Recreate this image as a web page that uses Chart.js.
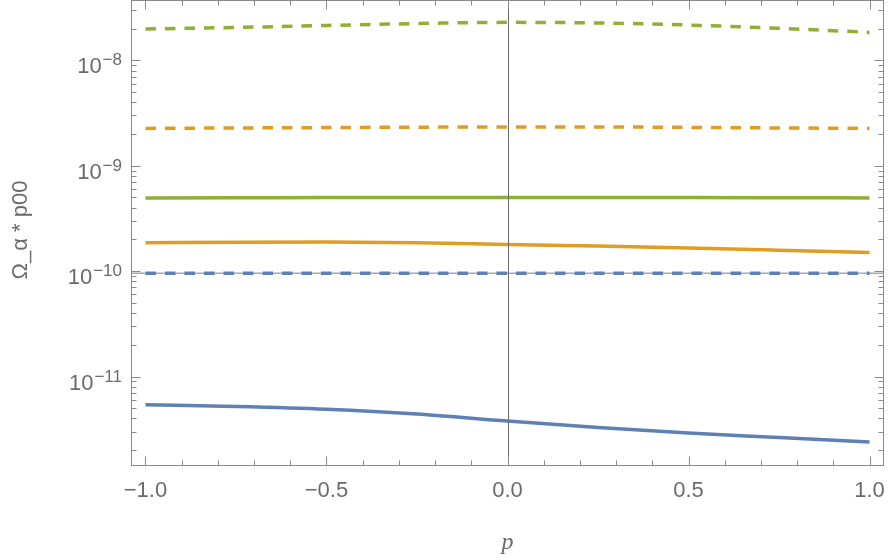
<!DOCTYPE html>
<html>
<head>
<meta charset="utf-8">
<script src="https://cdn.jsdelivr.net/npm/chart.js@4/dist/chart.umd.min.js"></script>
<style>
  html, body { margin: 0; padding: 0; background: #ffffff; }
  #wrap { width: 889px; height: 560px; position: relative; }
</style>
</head>
<body>
<div id="wrap"><canvas id="chart" width="889" height="560"></canvas></div>
<script>
// Sample points in p
const pValues = [-1, -0.75, -0.5, -0.25, 0, 0.25, 0.5, 0.75, 1];

// Ω_α * p00 for each curve
const blueSolid    = [5.39e-12, 5.19e-12, 4.89e-12, 4.41e-12, 3.78e-12, 3.28e-12, 2.91e-12, 2.64e-12, 2.39e-12];
const orangeSolid  = [1.86e-10, 1.88e-10, 1.89e-10, 1.86e-10, 1.79e-10, 1.73e-10, 1.66e-10, 1.58e-10, 1.50e-10];
const greenSolid   = [4.95e-10, 4.97e-10, 4.99e-10, 5.00e-10, 5.00e-10, 5.00e-10, 4.99e-10, 4.97e-10, 4.95e-10];
const blueDashed   = [9.53e-11, 9.53e-11, 9.53e-11, 9.53e-11, 9.53e-11, 9.53e-11, 9.53e-11, 9.53e-11, 9.53e-11];
const orangeDashed = [2.26e-9, 2.28e-9, 2.30e-9, 2.32e-9, 2.33e-9, 2.33e-9, 2.31e-9, 2.28e-9, 2.26e-9];
const greenDashed  = [1.98e-8, 2.05e-8, 2.14e-8, 2.23e-8, 2.29e-8, 2.26e-8, 2.16e-8, 2.01e-8, 1.84e-8];

// Axis ticks
const xMajorTicks = [-1, -0.5, 0, 0.5, 1];
const xTickLabels = ['\u22121.0', '\u22120.5', '0.0', '0.5', '1.0'];
const yDecadeExponents = [-8, -9, -10, -11];

// Ranges and axis crossing
const X_MIN = -1.04, X_MAX = 1.04;
const Y_MIN = 1.416e-12, Y_MAX = 3.733e-8;
const AXIS_CROSS_Y = 9.55e-11;

const BLUE = '#5e81b5', ORANGE = '#e19c24', GREEN = '#8fb032';
const TEXT = '#6b6b6b', FRAME = '#8a8a8a';
const DASH = [10.5, 9];
const FONT = '"Liberation Sans", Arial, sans-serif';

function series(values, color, dashed) {
  return {
    data: pValues.map((p, i) => ({ x: p, y: values[i] })),
    borderColor: color,
    backgroundColor: color,
    borderWidth: 3.5,
    borderDash: dashed ? DASH : [],
    borderCapStyle: 'butt',
    pointRadius: 0,
    fill: false,
    cubicInterpolationMode: 'monotone'
  };
}

const framePlugin = {
  id: 'frame',
  beforeDatasetsDraw(chart) {
    const { ctx, chartArea: a, scales: { y } } = chart;
    ctx.save();
    // horizontal axis line
    const yc = y.getPixelForValue(AXIS_CROSS_Y);
    ctx.strokeStyle = '#a8a8a8';
    ctx.lineWidth = 1.5;
    ctx.beginPath();
    ctx.moveTo(a.left, yc);
    ctx.lineTo(a.right, yc);
    ctx.stroke();
    ctx.restore();
  },
  afterDatasetsDraw(chart) {
    const { ctx, chartArea: a, scales: { x, y } } = chart;
    ctx.save();
    // vertical axis line at p = 0
    const x0 = Math.round(x.getPixelForValue(0)) + 0.5;
    ctx.strokeStyle = '#6a6a6a';
    ctx.lineWidth = 1;
    ctx.beginPath();
    ctx.moveTo(x0, a.top);
    ctx.lineTo(x0, a.bottom);
    ctx.stroke();

    // frame
    const L = Math.round(a.left) + 0.5, R = Math.round(a.right) - 0.5;
    const T = Math.round(a.top) + 0.5, B = Math.round(a.bottom) - 0.5;
    ctx.strokeStyle = FRAME;
    ctx.lineWidth = 1;
    ctx.strokeRect(L, T, R - L, B - T);

    // x ticks (bottom and top, pointing inward)
    ctx.beginPath();
    for (let k = -10; k <= 10; k++) {
      const v = k / 10;
      const px = Math.round(x.getPixelForValue(v)) + 0.5;
      const len = (k % 5 === 0) ? 9 : 5;
      ctx.moveTo(px, B); ctx.lineTo(px, B - len);
      ctx.moveTo(px, T); ctx.lineTo(px, T + len);
    }
    // y ticks (left and right, pointing inward)
    for (let e = -12; e <= -8; e++) {
      for (let m = 1; m <= 9; m++) {
        const v = m * Math.pow(10, e);
        if (v < Y_MIN || v > Y_MAX) continue;
        const py = Math.round(y.getPixelForValue(v)) + 0.5;
        const len = (m === 1) ? 9 : 5;
        ctx.moveTo(L, py); ctx.lineTo(L + len, py);
        ctx.moveTo(R, py); ctx.lineTo(R - len, py);
      }
    }
    ctx.stroke();

    // x tick labels
    ctx.fillStyle = TEXT;
    ctx.font = '22px ' + FONT;
    ctx.textAlign = 'center';
    ctx.textBaseline = 'alphabetic';
    xMajorTicks.forEach((v, i) => {
      ctx.fillText(xTickLabels[i], x.getPixelForValue(v), 497);
    });

    // y tick labels as 10^n
    yDecadeExponents.forEach(e => {
      const py = y.getPixelForValue(Math.pow(10, e));
      const expText = '\u2212' + Math.abs(e);
      ctx.font = '17px ' + FONT;
      const wExp = ctx.measureText(expText).width;
      ctx.font = '22px ' + FONT;
      const wBase = ctx.measureText('10').width;
      const right = 122;
      ctx.textAlign = 'left';
      ctx.fillText('10', right - wExp - wBase - 1, py + 13);
      ctx.font = '17px ' + FONT;
      ctx.fillText(expText, right - wExp, py + 5);
    });

    // axis titles
    ctx.textAlign = 'center';
    ctx.textBaseline = 'middle';
    ctx.font = 'italic 24px "Liberation Serif", "Times New Roman", serif';
    ctx.fillText('p', x.getPixelForValue(0), 543);

    ctx.save();
    ctx.translate(21, 230);
    ctx.rotate(-Math.PI / 2);
    ctx.font = '22px ' + FONT;
    ctx.fillText('\u03A9_\u03B1 * p00', 0, 0);
    ctx.restore();

    ctx.restore();
  }
};

new Chart(document.getElementById('chart'), {
  type: 'line',
  data: {
    datasets: [
      series(blueSolid, BLUE, false),
      series(orangeSolid, ORANGE, false),
      series(greenSolid, GREEN, false),
      series(blueDashed, BLUE, true),
      series(orangeDashed, ORANGE, true),
      series(greenDashed, GREEN, true)
    ]
  },
  options: {
    responsive: false,
    animation: false,
    layout: { padding: { left: 131, right: 5, top: 0, bottom: 94 } },
    plugins: { legend: { display: false }, tooltip: { enabled: false } },
    scales: {
      x: { type: 'linear', min: X_MIN, max: X_MAX, bounds: 'data', display: false },
      y: { type: 'logarithmic', min: Y_MIN, max: Y_MAX, bounds: 'data', display: false }
    }
  },
  plugins: [framePlugin]
});
</script>
</body>
</html>
